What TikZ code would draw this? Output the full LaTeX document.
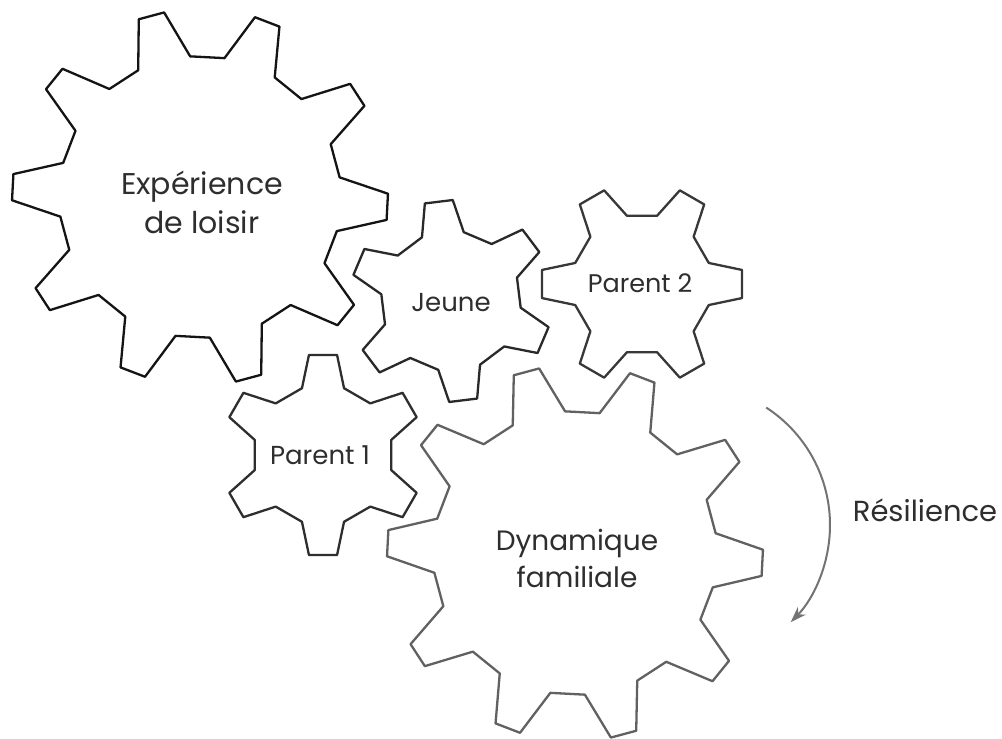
\documentclass[tikz,border=0pt]{standalone}
\usepackage{fontspec}
\setmainfont{Poppins}
\usetikzlibrary{arrows.meta}
\newcommand{\gearpath}[8]{% center x, center y, n, rtip, rroot, phase, tiphalf, basehalf
  \path[geardraw] ([shift={(#1,#2)}]{#6-#8}:#5pt)
  \foreach \k [evaluate=\k as \aa using {#6+\k*360/#3}, evaluate=\k as \bb using {#6+\k*360/#3+360/#3}] in {0,...,\numexpr#3-1\relax}{
    -- ([shift={(#1,#2)}]{\aa-#7}:#4pt)
    -- ([shift={(#1,#2)}]{\aa+#7}:#4pt)
    -- ([shift={(#1,#2)}]{\aa+#8}:#5pt)
    -- ([shift={(#1,#2)}]{\bb-#8}:#5pt)
  } -- cycle;}
\begin{document}
\begin{tikzpicture}[x=1pt,y=-1pt,
  geardraw/.style={draw=gearcol,fill=white,line width=2.3pt,line join=round},
  label/.style={text=txt,align=center,inner sep=0pt}]
\definecolor{txt}{HTML}{2E2E2E}
\colorlet{gearcol}{black!92}
\useasboundingbox[fill=white] (0,0) rectangle (1002,739);
% Expérience de loisir
\gearpath{200}{197}{10}{188}{141}{-3}{4}{11}
% Jeune
\colorlet{gearcol}{black!84}
\gearpath{451}{301}{6}{101}{70}{-23}{8}{17.5}
% Parent 2
\colorlet{gearcol}{black!78}
\gearpath{642}{284}{6}{101}{70}{0}{8}{17.5}
% Parent 1
\colorlet{gearcol}{black!82}
\gearpath{323}{455}{6}{101}{70}{30}{8}{17.5}
% Dynamique familiale
\colorlet{gearcol}{black!62}
\gearpath{575}{553}{10}{188}{142}{-3}{4}{11}
% texts
\node[label,font=\fontsize{30}{39}\selectfont] (exp) at (202,202) {Expérience\\de loisir};
\node[label,font=\fontsize{26}{30}\selectfont] (jeune) at (451,303) {Jeune};
\node[label,font=\fontsize{25.5}{30}\selectfont] (p2) at (640,283) {Parent 2};
\node[label,font=\fontsize{26}{30}\selectfont] (p1) at (320,455) {Parent 1};
\node[label,font=\fontsize{28}{37}\selectfont] (dyn) at (577,558) {Dynamique\\familiale};
\node[label,font=\fontsize{29}{30}\selectfont] (res) at (925,510) {Résilience};
% arrow
\coordinate (a0) at ([shift={(690,525)}]57:140pt);
\draw[draw=black!55,line width=2pt,-{Stealth[length=16pt,width=11pt]}] (a0) arc[start angle=57,end angle=-44,radius=140pt];
\end{tikzpicture}
\end{document}
